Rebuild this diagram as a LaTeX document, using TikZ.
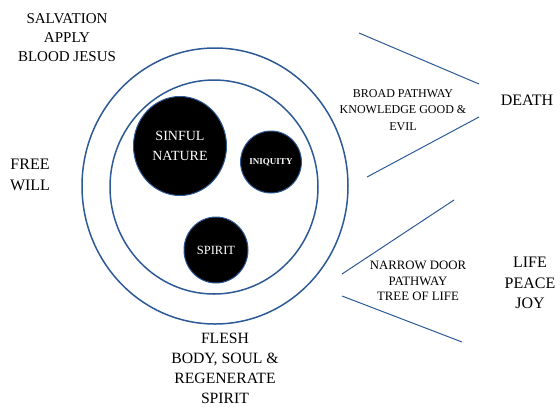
\documentclass[tikz,border=0pt]{standalone}
\usepackage{fontspec}
\setmainfont{Liberation Serif}
\usepackage{tikz}
\usetikzlibrary{shapes.geometric}
\definecolor{ringblue}{HTML}{2D5A96}

\begin{document}
\begin{tikzpicture}[x=1pt,y=-1pt]
	\tikzset{ring/.style = {ellipse, draw=ringblue, line width=1.5pt, inner sep=0pt},
		ball/.style = {ellipse, fill=black, draw=ringblue, line width=1pt, text=white, align=center, inner sep=0pt},
		word/.style = {align=center, inner sep=0pt},
		path/.style = {draw=ringblue, line width=1pt}}
	\useasboundingbox (0,0) rectangle (560,408);
	% rings and the three parts
	\node[ring, minimum width=266pt, minimum height=276pt] (O) at (215,186){};
	\node[ring, minimum width=208pt, minimum height=214pt] (I) at (214,187){};
	\node[ball, minimum width=93pt, minimum height=99pt, font=\fontsize{14}{19.5}\selectfont] (N) at (180,146){SINFUL\\NATURE};
	\node[ball, minimum width=59pt, minimum height=62pt, font=\fontsize{9}{11}\selectfont\bfseries] (Q) at (271,162){INIQUITY};
	\node[ball, minimum width=64pt, minimum height=66pt, font=\fontsize{12.5}{15}\selectfont] (S) at (216,250){SPIRIT};
	% labels
	\node[word, font=\fontsize{15}{19}\selectfont] (SA) at (67,38){SALVATION\\APPLY\\BLOOD JESUS};
	\node[word, font=\fontsize{16}{21}\selectfont] (FW) at (30,175){FREE\\WILL};
	\node[word, font=\fontsize{15.7}{20}\selectfont] (FL) at (225,368){FLESH\\BODY, SOUL \&\\REGENERATE\\SPIRIT};
	\node[word, font=\fontsize{12}{16.5}\selectfont] (BP) at (403,110){BROAD PATHWAY\\KNOWLEDGE GOOD \&\\EVIL};
	\node[word, font=\fontsize{12.8}{15.5}\selectfont] (NP) at (418,281){NARROW DOOR\\PATHWAY\\TREE OF LIFE};
	\node[word, font=\fontsize{16}{20}\selectfont] (D) at (527,100){DEATH};
	\node[word, font=\fontsize{16}{20.5}\selectfont] (L) at (530,283){LIFE\\PEACE\\JOY};
	% the two ways
	\coordinate (b1) at (359,33);
	\coordinate (b2) at (479,84);
	\coordinate (b3) at (479,117);
	\coordinate (b4) at (367,177);
	\coordinate (n1) at (454,200);
	\coordinate (n2) at (342,274);
	\coordinate (n3) at (342,296);
	\coordinate (n4) at (462,342);
	\draw[path] (b1) -- (b2);
	\draw[path] (b3) -- (b4);
	\draw[path] (n1) -- (n2);
	\draw[path] (n3) -- (n4);
\end{tikzpicture}
\end{document}
